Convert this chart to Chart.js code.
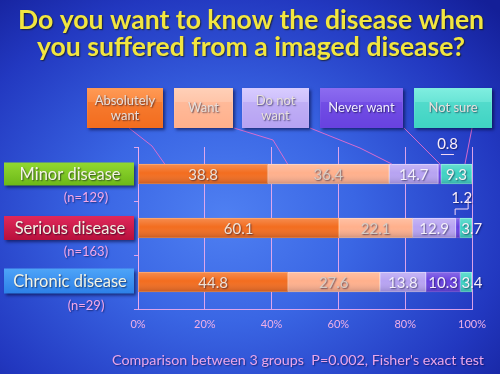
<!DOCTYPE html>
<html>
<head>
<meta charset="utf-8">
<script src="https://cdn.jsdelivr.net/npm/chart.js@4"></script>
<style>
  html, body { margin: 0; padding: 0; }
  body {
    width: 500px; height: 374px; overflow: hidden;
    background: radial-gradient(ellipse 75% 80% at 45% 58%, #4f80f2 0%, #3a66e4 35%, #2238c0 75%, #141f98 100%);
  }
  canvas { display: block; }
</style>
</head>
<body>
<canvas id="chart" width="500" height="374"></canvas>
<script>
const categories = ["Minor disease", "Serious disease", "Chronic disease"];
const sampleSizes = ["(n=129)", "(n=163)", "(n=29)"];
const seriesNames = ["Absolutely want", "Want", "Do not want", "Never want", "Not sure"];
const absolutelyWant = [38.8, 60.1, 44.8];
const want = [36.4, 22.1, 27.6];
const doNotWant = [14.7, 12.9, 13.8];
const neverWant = [0.8, 1.2, 10.3];
const notSure = [9.3, 3.7, 3.4];
const xTicks = [0, 20, 40, 60, 80, 100];
const titleLines = ["Do you want to know the disease when", "you suffered from a imaged disease?"];
const footnote = "Comparison between 3 groups  P=0.002, Fisher's exact test";

const FONT = "Lato, 'Open Sans', sans-serif";
const colors = ["#f36d1f", "#ffb08c", "#b7a3f2", "#6842e0", "#3fd3c3"];
const borders = ["#ff9a55", "#ffd0b8", "#d8ccff", "#8c6cf0", "#80eee0"];
const textColors = ["#eee2d8", "#d6ccc4", "#f4f0fa", "#f4f0fa", "#f2f2f2"];
const legendLines = [["Absolutely", "want"], ["Want"], ["Do not", "want"], ["Never want"], ["Not sure"]];
const catColors = [["#92d830", "#6cb818"], ["#e0285a", "#b8103c"], ["#4ea4f8", "#2c80e8"]];

// legend boxes along the top (x, y, w, h)
const legendBoxes = [[87, 88, 76, 40], [174, 88, 59, 40], [242, 88, 67, 40], [320, 88, 83, 40], [414, 88, 78, 40]];
// leader line bends, end point comes from the x scale
const leaders = [
  { from: [129, 128], via: [[152, 146]], end: 8 },
  { from: [234, 128], via: [[273, 140]], end: 6 },
  { from: [310, 128], via: [[360, 148]], end: 0.8 },
  { from: [404, 128], via: [], end: 0.5 },
  { from: [472, 128], via: [], end: 7.2 }
];

const seriesData = [absolutelyWant, want, doNotWant, neverWant, notSure];

function shadowText(ctx, text, x, y, color, shadow) {
  ctx.save();
  ctx.shadowColor = shadow || "rgba(0,0,30,0.65)";
  ctx.shadowOffsetX = 1;
  ctx.shadowOffsetY = 1;
  ctx.shadowBlur = 1.5;
  ctx.fillStyle = color;
  ctx.fillText(text, x, y);
  ctx.restore();
}

function boxGradient(ctx, y, h, top, bottom) {
  const g = ctx.createLinearGradient(0, y, 0, y + h);
  g.addColorStop(0, top);
  g.addColorStop(1, bottom);
  return g;
}

const decor = {
  id: "decor",
  afterDatasetsDraw(chart) {
    const ctx = chart.ctx;
    const xs = chart.scales.x;
    const ys = chart.scales.y;

    // bar shading and values
    seriesData.forEach((vals, di) => {
      const meta = chart.getDatasetMeta(di);
      meta.data.forEach((bar, i) => {
        const top = bar.y - bar.height / 2;
        const left = Math.min(bar.x, bar.base);
        const w = Math.abs(bar.x - bar.base);
        const g = ctx.createLinearGradient(0, top, 0, top + bar.height);
        g.addColorStop(0, "rgba(255,255,255,0.22)");
        g.addColorStop(0.45, "rgba(255,255,255,0)");
        g.addColorStop(1, "rgba(0,0,40,0.18)");
        ctx.fillStyle = g;
        ctx.fillRect(left, top, w, bar.height);

        const v = vals[i];
        ctx.font = "15px " + FONT;
        ctx.textAlign = "center";
        ctx.textBaseline = "middle";
        let cx = (bar.x + bar.base) / 2;
        let cy = bar.y + 1;
        let col = textColors[di];
        if (v < 2) {
          cx += di === 3 && i === 0 ? 8 : 4;
          cy = bar.y - 30;
          col = "#faeefa";
        } else if (v < 5) {
          cx += 6;
          col = "#faeefa";
        }
        shadowText(ctx, v.toFixed(1), cx, cy, col, "rgba(0,0,40,0.55)");
      });
    });

    // little marks for the tiny segments
    ctx.save();
    ctx.strokeStyle = "#f4d8f4";
    ctx.lineWidth = 1;
    const b0 = chart.getDatasetMeta(3).data[0];
    ctx.beginPath();
    ctx.moveTo(b0.x - 0, b0.y - 19.5);
    ctx.lineTo(b0.x + 13, b0.y - 19.5);
    ctx.stroke();
    const b1 = chart.getDatasetMeta(3).data[1];
    ctx.beginPath();
    ctx.moveTo(b1.base - 0.5, b1.y - 13);
    ctx.lineTo(b1.base - 0.5, b1.y - 19);
    ctx.lineTo(b1.base + 12.5, b1.y - 19);
    ctx.lineTo(b1.base + 12.5, b1.y - 32);
    ctx.stroke();
    ctx.restore();

    // leader lines from legend boxes to the first bar
    ctx.save();
    ctx.strokeStyle = "rgba(232,110,205,0.9)";
    ctx.lineWidth = 1;
    let cum = 0;
    leaders.forEach((ld, di) => {
      const ex = xs.getPixelForValue(cum + ld.end);
      const ey = ys.getPixelForValue(0) - 10;
      ctx.beginPath();
      ctx.moveTo(ld.from[0], ld.from[1]);
      ld.via.forEach(p => ctx.lineTo(p[0], p[1]));
      ctx.lineTo(ex, ey);
      ctx.stroke();
      cum += seriesData[di][0];
    });
    ctx.restore();
  },
  afterDraw(chart) {
    const ctx = chart.ctx;
    const ys = chart.scales.y;

    // title
    ctx.save();
    ctx.textAlign = "center";
    ctx.textBaseline = "alphabetic";
    ctx.font = "bold 24px " + FONT;
    const scale = 467 / ctx.measureText(titleLines[0]).width;
    ctx.font = "bold " + (24 * scale).toFixed(1) + "px " + FONT;
    shadowText(ctx, titleLines[0], 251, 29, "#f2e640", "rgba(20,20,0,0.7)");
    shadowText(ctx, titleLines[1], 251, 56, "#f2e640", "rgba(20,20,0,0.7)");
    ctx.restore();

    // legend boxes
    legendBoxes.forEach((b, i) => {
      const [x, y, w, h] = b;
      ctx.save();
      ctx.shadowColor = "rgba(0,0,40,0.55)";
      ctx.shadowOffsetX = 2;
      ctx.shadowOffsetY = 2;
      ctx.shadowBlur = 3;
      ctx.fillStyle = boxGradient(ctx, y, h, borders[i], colors[i]);
      ctx.fillRect(x, y, w, h);
      ctx.restore();
      ctx.save();
      ctx.fillStyle = colors[i];
      ctx.globalAlpha = 0.55;
      ctx.fillRect(x + 1, y + h * 0.35, w - 2, h * 0.65 - 1);
      ctx.restore();
      ctx.save();
      ctx.font = "13px " + FONT;
      ctx.textAlign = "center";
      ctx.textBaseline = "middle";
      const lines = legendLines[i];
      const lh = 15;
      lines.forEach((t, k) => {
        const ty = y + h / 2 + (k - (lines.length - 1) / 2) * lh;
        shadowText(ctx, t, x + w / 2, ty, i === 3 ? "#f0ecff" : "#e8e0dc", "rgba(0,0,30,0.6)");
      });
      ctx.restore();
    });

    // category boxes and sample sizes
    categories.forEach((c, i) => {
      const cy = ys.getPixelForValue(i);
      const h = 23 + i;
      const y = cy - h / 2 - (i === 2 ? 1 : 0);
      ctx.save();
      ctx.shadowColor = "rgba(0,0,40,0.55)";
      ctx.shadowOffsetX = 2;
      ctx.shadowOffsetY = 2;
      ctx.shadowBlur = 3;
      ctx.fillStyle = boxGradient(ctx, y, h, catColors[i][0], catColors[i][1]);
      ctx.fillRect(4, y, 130, h);
      ctx.restore();
      ctx.save();
      ctx.font = "16.5px " + FONT;
      ctx.textAlign = "center";
      ctx.textBaseline = "middle";
      shadowText(ctx, c, 70, y + h / 2 + 0.5, "#f4f4e4", "rgba(0,0,30,0.6)");
      ctx.font = "13px " + FONT;
      shadowText(ctx, sampleSizes[i], 86, cy + 24, "#f4a8e8", "rgba(0,0,40,0.5)");
      ctx.restore();
    });

    // footnote
    ctx.save();
    ctx.font = "14.3px " + FONT;
    ctx.textAlign = "center";
    ctx.textBaseline = "middle";
    shadowText(ctx, footnote, 298, 360, "#eaa6ea", "rgba(0,0,40,0.5)");
    ctx.restore();
  }
};

const lineCol = "rgba(238,172,236,0.9)";

new Chart(document.getElementById("chart"), {
  type: "bar",
  data: {
    labels: categories,
    datasets: seriesNames.map((name, i) => ({
      label: name,
      data: seriesData[i],
      backgroundColor: colors[i],
      borderColor: borders[i],
      borderWidth: 1,
      borderSkipped: false,
      barThickness: 20
    }))
  },
  options: {
    indexAxis: "y",
    responsive: false,
    animation: false,
    layout: { padding: { top: 147, left: 132, right: 28, bottom: 0 } },
    plugins: {
      legend: { display: false },
      title: { display: false },
      tooltip: { enabled: false }
    },
    scales: {
      x: {
        stacked: true,
        min: 0,
        max: 100,
        afterBuildTicks: s => { s.ticks = xTicks.map(v => ({ value: v })); },
        afterFit: s => { s.height = 65; },
        ticks: {
          callback: v => v + "%",
          color: "#f0b0e6",
          font: { family: FONT, size: 11 },
          padding: 9
        },
        grid: { color: lineCol, lineWidth: 1, drawTicks: false },
        border: { color: lineCol, width: 1 }
      },
      y: {
        stacked: true,
        afterFit: s => { s.width = 6; },
        ticks: { display: false },
        grid: { color: lineCol, drawOnChartArea: false, tickLength: 4, offset: true },
        border: { color: lineCol, width: 1 }
      }
    }
  },
  plugins: [decor]
});
</script>
</body>
</html>
